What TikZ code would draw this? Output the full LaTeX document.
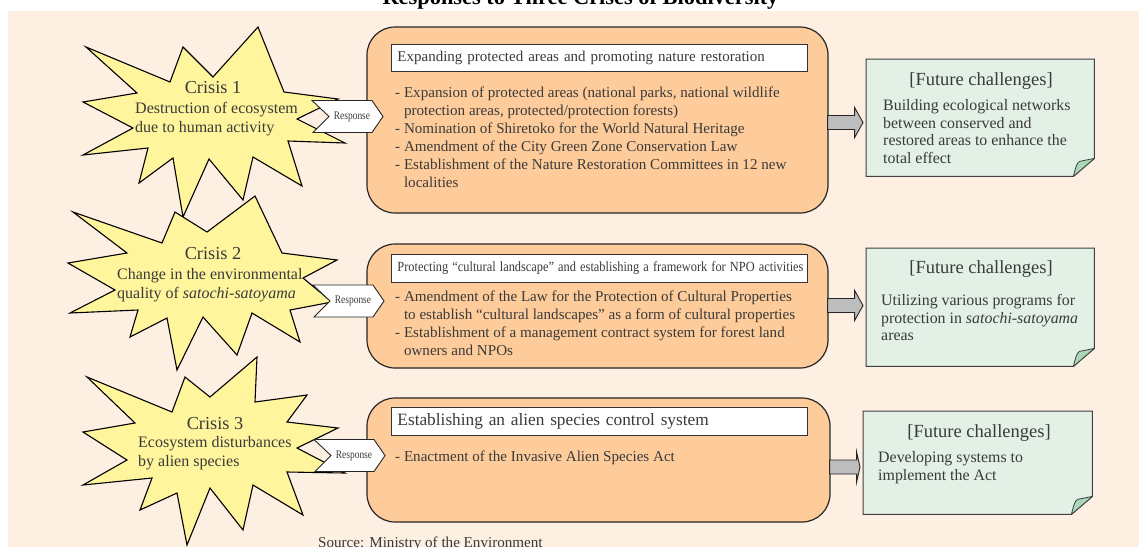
\documentclass[tikz,border=0pt]{standalone}
\usepackage{fontspec}
\setmainfont{Liberation Serif}
\usepackage{graphicx}
\usetikzlibrary{calc}
\definecolor{panel}{HTML}{FDEFE1}
\definecolor{staryel}{HTML}{FFF59D}
\definecolor{orng}{HTML}{FECC9A}
\definecolor{futg}{HTML}{E2F0E6}
\definecolor{foldg}{HTML}{A8D8B8}
\definecolor{txt}{HTML}{3A3A3A}
\definecolor{arrg}{HTML}{BDBDBD}
\newcommand{\fatarrow}[3]{%
  \draw[fatarr] ($(#1.east |- 0,#3)+(-1,-7)$) -- ++(27,0) -- ++(0,-8)
    -- ($(#2.west |- 0,#3)+(-3,0)$) -- ($(#1.east |- 0,#3)+(26,15)$)
    -- ++(0,-8) -- ++(-27,0) -- cycle;}
\newcommand{\respchev}[1]{%
  \draw[chev] ($(#1)+(-40,-16)$) -- ($(#1)+(20,-16)$) -- ($(#1)+(31,0)$)
    -- ($(#1)+(20,16)$) -- ($(#1)+(-39,16)$) -- ($(#1)+(-23,0)$) -- cycle;}
\newcommand{\futshape}[1]{%
  \draw[futbox] (#1.north west) -- (#1.north east) -- ($(#1.south east)+(0,-18)$)
    -- ($(#1.south east)+(-21,0)$) -- (#1.south west) -- cycle;
  \draw[foldbox] ($(#1.south east)+(-21,0)$) .. controls ($(#1.south east)+(-19,-8)$) and ($(#1.south east)+(-18,-13)$) .. ($(#1.south east)+(-15,-15)$)
    -- ($(#1.south east)+(0,-18)$) -- cycle;}
\begin{document}
\begin{tikzpicture}[x=1pt,y=-1pt,
  every node/.style={text=txt},
  starshape/.style={draw=black, line width=1.1pt, fill=staryel, line join=miter},
  chev/.style={draw=black!85, line width=0.9pt, fill=white},
  resp/.style={font=\fontsize{11.5}{12}\selectfont, inner sep=0},
  obox/.style={draw=black!85, line width=1.2pt, fill=orng, rounded corners=28pt, inner sep=0},
  hbox/.style={draw=black!80, line width=0.9pt, fill=white, inner xsep=6pt, inner ysep=0,
    minimum width=416pt, minimum height=27pt, text width=404pt, align=left, anchor=north west},
  listtxt/.style={font=\fontsize{15.1}{18}\selectfont, inner sep=0, align=left, anchor=north west},
  crisis/.style={font=\fontsize{18.3}{19}\selectfont, inner sep=0, anchor=base},
  startxt/.style={font=\fontsize{16}{19}\selectfont, inner sep=0, align=left, anchor=north west},
  futframe/.style={inner sep=0, minimum width=228pt, minimum height=117pt, anchor=north west},
  futbox/.style={draw=black!75, line width=1pt, fill=futg},
  foldbox/.style={draw=black!75, line width=0.8pt, fill=foldg, line join=round},
  futtitle/.style={font=\fontsize{18.5}{19}\selectfont, inner sep=0, anchor=base},
  futtxt/.style={font=\fontsize{15.9}{17.5}\selectfont, inner sep=0, align=left, anchor=north west},
  fatarr/.style={draw=black!85, line width=0.9pt, fill=arrg, line join=miter}
]
\useasboundingbox (0,0) rectangle (1139,547);
\fill[panel] (8,11) rectangle (1139,547);
\node[font=\bfseries\fontsize{22.4}{24}\selectfont, anchor=base, text=black] (title) at (580.5,4.7) {Responses to Three Crises of Biodiversity};

% stars
\draw[starshape] (86,47) -- (170,82) -- (183,47) -- (213,77) -- (258,27) -- (284,92) -- (338,99) -- (297,119) -- (345,143) -- (288,141) -- (302,186) -- (253,157) -- (243,200) -- (209,159) -- (183,217) -- (173,158) -- (139,183) -- (148,148) -- (83,155) -- (133,128) -- (83,102) -- (137,93) -- cycle;
\draw[starshape] (73,212) -- (162,243) -- (175,212) -- (207,232) -- (255,196) -- (282,253) -- (337,260) -- (303,278) -- (332,302) -- (290,310) -- (300,342) -- (252,313) -- (237,355) -- (203,317) -- (177,370) -- (167,318) -- (130,337) -- (138,310) -- (70,313) -- (115,290) -- (68,263) -- (127,253) -- cycle;
\draw[starshape] (87,377) -- (172,412) -- (185,377) -- (210,397) -- (257,357) -- (255,402) -- (307,395) -- (287,422) -- (338,428) -- (297,448) -- (345,473) -- (287,472) -- (303,515) -- (253,485) -- (243,530) -- (210,488) -- (187,545) -- (177,493) -- (140,510) -- (152,478) -- (83,485) -- (127,460) -- (83,432) -- (135,423) -- cycle;

\node[crisis] (c1) at (213,93) {Crisis 1};
\node[startxt] (c1t) at (135,99.7) {\strut Destruction of ecosystem\\due to human activity};
\node[crisis] (c2) at (213,259) {Crisis 2};
\node[startxt] (c2t) at (117,265.7) {\strut Change in the environmental\\quality of \textit{satochi-satoyama}};
\node[crisis] (c3) at (215,429) {Crisis 3};
\node[startxt] (c3t) at (138,433.7) {\strut Ecosystem disturbances\\by alien species};

% orange boxes
\node[obox, minimum width=461pt, minimum height=186pt] (b1) at (597.5,120) {};
\node[obox, minimum width=461pt, minimum height=124pt] (b2) at (597.5,306) {};
\node[obox, minimum width=463pt, minimum height=124pt] (b3) at (598.5,460) {};

% response chevrons
\coordinate (r1) at (352,116.5);
\coordinate (r2) at (353,301);
\coordinate (r3) at (354,455.5);
\respchev{r1}
\respchev{r2}
\respchev{r3}
\node[resp] (r1t) at (r1) {\scalebox{0.82}[1]{Response}};
\node[resp] (r2t) at (r2) {\scalebox{0.82}[1]{Response}};
\node[resp] (r3t) at (r3) {\scalebox{0.82}[1]{Response}};

\node[hbox, font=\fontsize{15}{16}\selectfont] (h1) at (391,44) {Expanding protected areas and promoting nature restoration};
\node[hbox, minimum height=28pt, font=\fontsize{14}{16}\selectfont] (h2) at (391,254) {\resizebox{406pt}{\height}{Protecting “cultural landscape” and establishing a framework for NPO activities}};
\node[hbox, minimum height=28pt, font=\fontsize{17.3}{18}\selectfont] (h3) at (391,407) {Establishing an alien species control system};

\node[listtxt] (l1) at (395,84.4) {\strut- Expansion of protected areas (national parks, national wildlife\\\phantom{- }protection areas, protected/protection forests)\\- Nomination of Shiretoko for the World Natural Heritage\\- Amendment of the City Green Zone Conservation Law\\- Establishment of the Nature Restoration Committees in 12 new\\\phantom{- }localities};
\node[listtxt] (l2) at (395,288.4) {\strut- Amendment of the Law for the Protection of Cultural Properties\\\phantom{- }to establish “cultural landscapes” as a form of cultural properties\\- Establishment of a management contract system for forest land\\\phantom{- }owners and NPOs};
\node[listtxt] (l3) at (395,448.4) {\strut- Enactment of the Invasive Alien Species Act};

% future challenge boxes
\node[futframe] (f1) at (866,59) {};
\node[futframe, minimum height=118pt] (f2) at (866,248) {};
\node[futframe, minimum width=229pt, minimum height=103pt] (f3) at (863,411) {};
\futshape{f1}
\futshape{f2}
\futshape{f3}
\node[futtitle] (f1h) at (981,85) {[Future challenges]};
\node[futtxt] (f1t) at (883,98.25) {\strut Building ecological networks\\between conserved and\\restored areas to enhance the\\total effect};
\node[futtitle] (f2h) at (981,273) {[Future challenges]};
\node[futtxt] (f2t) at (881,293.25) {\strut Utilizing various programs for\\protection in \textit{satochi-satoyama}\\areas};
\node[futtitle] (f3h) at (979,437) {[Future challenges]};
\node[futtxt, font=\fontsize{15.9}{18}\selectfont] (f3t) at (878,449.9) {\strut Developing systems to\\implement the Act};

% gray arrows
\fatarrow{b1}{f1}{122.5}
\fatarrow{b2}{f2}{305.5}
\fatarrow{b3}{f3}{467}

\node[font=\fontsize{15.1}{16}\selectfont, inner sep=0, anchor=base west] (src) at (318,547.5) {Source: Ministry of the Environment};
\end{tikzpicture}
\end{document}
